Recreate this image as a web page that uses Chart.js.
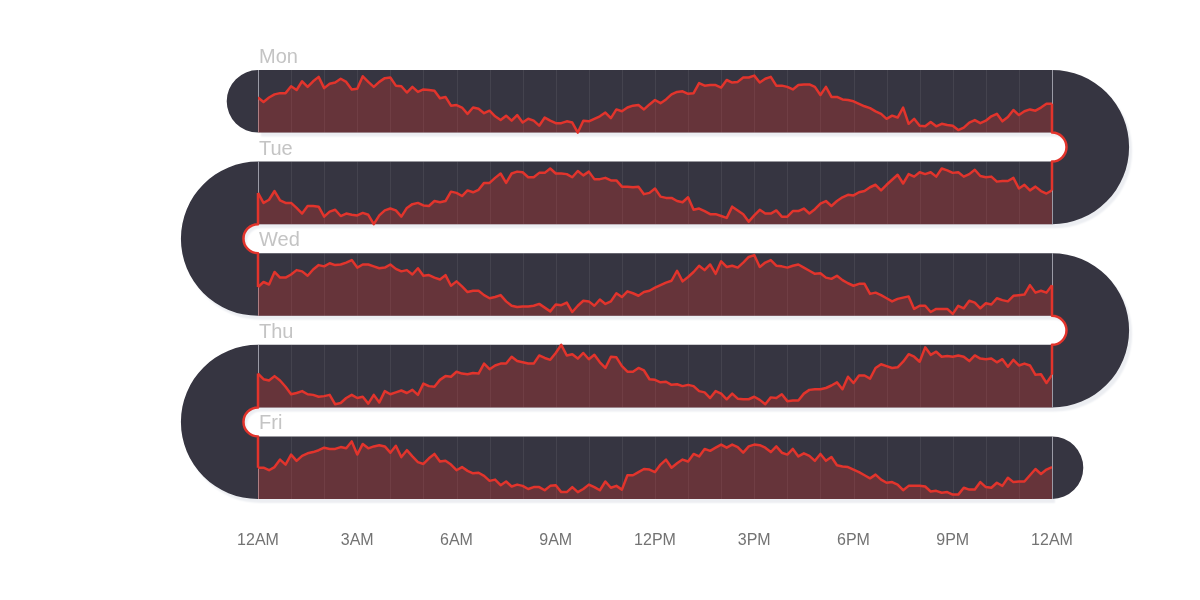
<!DOCTYPE html>
<html><head><meta charset="utf-8">
<style>html,body{margin:0;padding:0;background:#fff;}canvas{display:block;}</style>
<script src="https://cdn.jsdelivr.net/npm/chart.js@4.4.1/dist/chart.umd.min.js"></script>
</head><body>
<canvas id="c" width="1200" height="600"></canvas>
<script>
// Values: 0 = bottom of a day's band, 100 = top; one value every 10 minutes (145 per day)
const days = ['Mon','Tue','Wed','Thu','Fri'];
const tickLabels = ['12AM','3AM','6AM','9AM','12PM','3PM','6PM','9PM','12AM'];
const mon = [56,49,56,61,63,63,74,68,82,73,82,89,71,78,80,86,81,69,70,90,81,73,81,87,88,75,74,64,73,65,69,68,67,55,57,43,44,40,30,40,38,31,35,26,20,27,19,28,16,22,19,11,24,19,15,15,18,16,0,19,18,22,26,32,23,37,34,40,43,44,37,45,52,
  47,53,61,65,66,62,63,79,75,76,76,72,84,80,81,88,88,91,80,86,89,75,75,73,69,76,77,77,73,60,73,57,57,53,52,50,46,42,39,34,30,22,27,24,40,14,22,11,10,17,10,14,12,11,4,8,16,20,15,19,26,30,18,25,36,28,34,37,35,40,46,46];
const tue = [50,34,39,53,38,34,34,26,17,29,29,28,12,20,23,13,17,15,14,18,15,0,14,22,25,22,12,26,32,34,30,29,37,35,37,52,50,45,54,51,55,66,66,74,81,66,81,84,83,75,75,82,82,89,81,81,80,75,85,78,84,72,72,74,70,70,60,60,59,60,48,50,57,
  44,42,42,37,35,43,23,25,21,16,16,13,10,28,22,16,4,14,23,17,17,22,12,12,21,21,25,17,24,33,37,29,37,43,47,46,51,53,59,63,54,63,71,79,65,80,76,83,80,83,76,89,86,82,83,76,80,87,77,75,76,68,69,69,74,57,63,54,60,53,49,54];
const wed = [46,54,50,70,61,61,66,73,71,64,74,81,79,84,81,82,85,89,77,82,82,79,76,77,82,75,71,73,66,76,64,65,61,58,65,48,55,47,38,40,40,33,28,30,33,23,16,14,15,15,16,19,13,7,18,17,21,6,16,24,23,16,26,19,23,36,30,39,36,32,38,40,45,
  49,53,56,72,55,62,70,80,73,82,67,87,78,80,77,85,94,97,78,85,89,80,79,77,80,82,77,72,67,68,61,59,64,57,52,48,51,51,35,37,33,28,23,27,29,31,11,16,16,6,11,11,11,3,16,12,24,21,12,20,18,28,25,23,32,33,34,49,37,40,37,49];
const thu = [54,45,43,50,43,33,21,23,26,21,20,17,18,20,5,7,15,20,15,17,6,20,8,26,21,24,27,23,28,20,38,34,33,44,50,49,57,54,53,55,54,70,61,67,70,70,81,74,72,70,70,83,79,76,87,100,83,85,78,87,77,84,72,63,81,80,66,57,57,63,59,45,44,
  40,41,36,37,34,36,34,26,24,15,26,22,13,22,14,13,13,17,12,5,16,15,21,10,11,11,22,28,29,29,31,35,40,29,49,39,51,51,46,63,69,66,63,64,73,85,81,73,96,84,89,81,82,81,83,81,74,83,78,77,78,72,77,65,76,67,70,67,52,53,39,52];
const fri = [50,50,46,51,63,55,71,61,69,73,75,78,82,80,80,83,81,92,71,88,81,84,86,84,74,85,67,78,68,59,56,65,72,60,61,55,46,51,45,41,42,37,29,31,22,28,20,23,21,16,19,19,14,21,22,11,11,19,11,16,23,19,14,28,18,21,15,38,38,43,48,47,43,
  55,63,50,57,63,60,72,68,80,77,82,87,82,87,83,74,84,87,86,82,75,84,74,71,80,68,73,69,61,72,61,67,54,52,51,47,43,38,33,39,31,26,27,23,14,21,21,21,20,12,13,10,11,7,7,18,15,15,27,19,18,26,21,34,27,28,28,38,48,40,47,51];

const series = [mon, tue, wed, thu, fri];
const ROW = 146.4;            // row pitch in value units (band = 100 units)
const bases = days.map((d, i) => (days.length - 1 - i) * ROW);

const datasets = series.map((s, i) => ({
  label: days[i],
  data: s.map((v, j) => ({ x: j / 6, y: bases[i] + v })),
  borderColor: '#e2342c',
  borderWidth: 2.5,
  borderJoinStyle: 'round',
  pointRadius: 0,
  tension: 0,
  backgroundColor: 'rgba(226,52,44,0.28)',
  fill: { value: bases[i] }
}));

function rowsPx(chart) {
  const y = chart.scales.y;
  return bases.map(b => ({ top: y.getPixelForValue(b + 100), bot: y.getPixelForValue(b) }));
}

const serpentine = {
  id: 'serpentine',
  beforeDatasetsDraw(chart) {
    const { ctx, scales: { x } } = chart;
    const x0 = x.getPixelForValue(0), x1 = x.getPixelForValue(24);
    const rows = rowsPx(chart);
    ctx.save();
    ctx.beginPath();
    rows.forEach(r => ctx.rect(x0, r.top, x1 - x0, r.bot - r.top));
    for (let i = 0; i < rows.length - 1; i++) {
      const a = rows[i], b = rows[i + 1];
      const cy = (a.bot + b.top) / 2, R = (b.bot - a.top) / 2, ri = (b.top - a.bot) / 2;
      const right = i % 2 === 0;
      const cx = right ? x1 : x0;
      ctx.moveTo(cx, cy - R);
      ctx.arc(cx, cy, R, -Math.PI / 2, Math.PI / 2, !right);
      ctx.lineTo(cx, cy + ri);
      ctx.arc(cx, cy, ri, Math.PI / 2, -Math.PI / 2, right);
      ctx.closePath();
    }
    ctx.shadowColor = '#eceef2';
    ctx.shadowOffsetX = 3;
    ctx.shadowOffsetY = 4;
    ctx.shadowBlur = 2;
    ctx.fillStyle = '#363541';
    ctx.fill();
    ctx.shadowColor = 'transparent';
    ctx.shadowOffsetX = 0; ctx.shadowOffsetY = 0; ctx.shadowBlur = 0;
    // end caps
    ctx.beginPath();
    const m = rows[0];
    ctx.moveTo(x0, m.top);
    ctx.arc(x0, (m.top + m.bot) / 2, (m.bot - m.top) / 2, -Math.PI / 2, Math.PI / 2, true);
    ctx.closePath();
    const f = rows[rows.length - 1];
    const fRight = (rows.length - 1) % 2 === 0;
    const fx = fRight ? x1 : x0;
    ctx.moveTo(fx, f.top);
    ctx.arc(fx, (f.top + f.bot) / 2, (f.bot - f.top) / 2, -Math.PI / 2, Math.PI / 2, !fRight);
    ctx.closePath();
    ctx.fill();
    // hour grid lines
    ctx.lineWidth = 1;
    rows.forEach(r => {
      for (let h = 0; h <= 24; h++) {
        const px = Math.round(x.getPixelForValue(h)) + 0.5;
        ctx.strokeStyle = (h === 0 || h === 24) ? 'rgba(190,190,200,0.75)' : 'rgba(255,255,255,0.07)';
        ctx.beginPath();
        ctx.moveTo(px, r.top);
        ctx.lineTo(px, r.bot);
        ctx.stroke();
      }
    });
    ctx.restore();
  },
  afterDatasetsDraw(chart) {
    const { ctx, scales: { x } } = chart;
    const x0 = x.getPixelForValue(0), x1 = x.getPixelForValue(24);
    const rows = rowsPx(chart);
    ctx.save();
    ctx.strokeStyle = '#e2342c';
    ctx.lineWidth = 2.5;
    ctx.lineJoin = 'round';
    for (let i = 0; i < rows.length - 1; i++) {
      const a = rows[i], b = rows[i + 1];
      const cy = (a.bot + b.top) / 2, ri = (b.top - a.bot) / 2;
      const right = i % 2 === 0;
      const cx = right ? x1 : x0;
      const idx = right ? series[i].length - 1 : 0;
      const pa = chart.getDatasetMeta(i).data[idx];
      const pb = chart.getDatasetMeta(i + 1).data[idx];
      ctx.beginPath();
      ctx.moveTo(cx, pa.y);
      ctx.lineTo(cx, cy - ri);
      ctx.arc(cx, cy, ri, -Math.PI / 2, Math.PI / 2, !right);
      ctx.lineTo(cx, pb.y);
      ctx.stroke();
    }
    // day labels
    ctx.fillStyle = '#c4c4c4';
    ctx.font = '20px "Liberation Sans", Arial, sans-serif';
    ctx.textAlign = 'left';
    ctx.textBaseline = 'alphabetic';
    rows.forEach((r, i) => ctx.fillText(days[i], x0 + 1, r.top - 7));
    ctx.restore();
  }
};

new Chart(document.getElementById('c'), {
  type: 'line',
  data: { datasets },
  options: {
    responsive: false,
    devicePixelRatio: 1,
    animation: false,
    events: [],
    layout: { padding: { left: 258, right: 148, top: 70, bottom: 17.8 } },
    plugins: { legend: { display: false }, tooltip: { enabled: false } },
    scales: {
      x: {
        type: 'linear', min: 0, max: 24,
        grid: { display: false, drawTicks: false },
        border: { display: false },
        ticks: {
          stepSize: 3, padding: 32, color: '#737373', maxRotation: 0,
          font: { family: '"Liberation Sans", Arial, sans-serif', size: 16 },
          callback: v => tickLabels[Math.round(v / 3)]
        }
      },
      y: { display: false, min: 0, max: bases[0] + 100 }
    }
  },
  plugins: [serpentine]
});
</script>
</body></html>
